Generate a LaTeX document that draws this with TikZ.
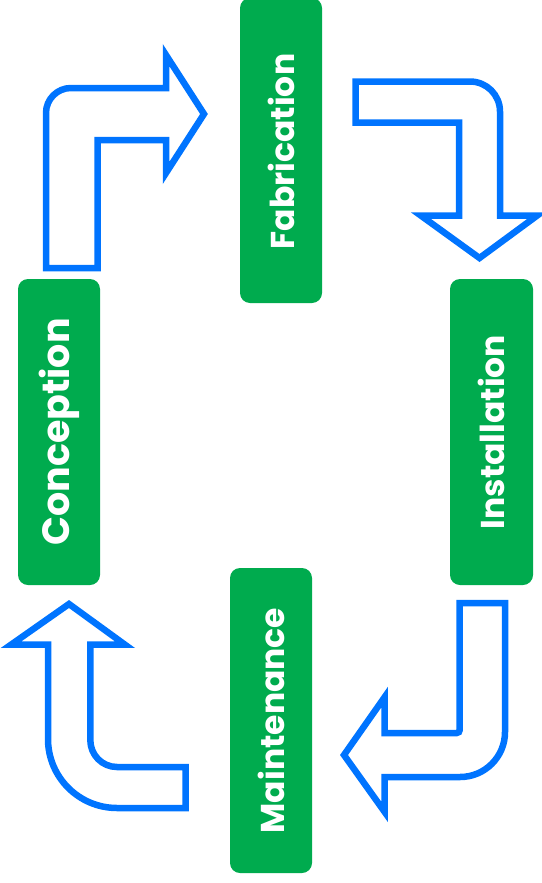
\documentclass[tikz,border=0pt]{standalone}
\usepackage{fontspec}
\setmainfont{Poppins}
\definecolor{grn}{RGB}{0,171,78}
\definecolor{blu}{RGB}{0,116,255}
\begin{document}
\begin{tikzpicture}[x=1pt,y=-1pt,
  stage/.style={fill=grn,rounded corners=10pt},
  lbl/.style={text=white,font=\bfseries\fontsize{33}{33}\selectfont,rotate=90,inner sep=0pt},
  bigarrow/.style={draw=blu,line width=6.5pt,line join=miter,fill=white}]
\useasboundingbox (0,0) rectangle (541,883);
% boxes
\fill[stage] (240,-2) rectangle (322,303);
\fill[stage] (18,279) rectangle (100,585);
\fill[stage] (450,279) rectangle (533,585);
\fill[stage] (230,568) rectangle (312,873);
\node[lbl] (fab) at (281,151.5) {Fabrication};
\node[lbl,font=\bfseries\fontsize{38}{38}\selectfont] (con) at (59,432) {Conception};
\node[lbl] (ins) at (491.5,432) {Installation};
\node[lbl] (mai) at (271,720.5) {Maintenance};
% arrow 1: up then right
\draw[bigarrow] (46,268) -- (46,113) .. controls (46,99.2) and (57.2,88) .. (71,88)
  -- (166,88) -- (166,55) -- (204,114) -- (166,173) -- (166,140) -- (97.5,140) -- (97.5,268) -- cycle;
% arrow 2: right then down
\draw[bigarrow] (355.7,81.5) -- (470,81.5) .. controls (486.6,81.5) and (500,94.9) .. (500,111.5)
  -- (500,215.7) -- (537,215.7) -- (479.5,258) -- (421,215.7) -- (459,215.7) -- (459,122.5) -- (355.7,122.5) -- cycle;
% arrow 3: down then left
\draw[bigarrow] (459.7,603) -- (505,603) -- (505,732) .. controls (505,756.9) and (484.9,777) .. (460,777)
  -- (384.7,777) -- (384.7,812) -- (344,755) -- (384.7,697) -- (384.7,733) -- (456.7,733)
  .. controls (458.4,733) and (459.7,731.7) .. (459.7,730) -- cycle;
% arrow 4: left then up
\draw[bigarrow] (185.7,767) -- (185.7,808) -- (117,808) .. controls (78.9,808) and (48,777.1) .. (48,739)
  -- (48,644.7) -- (11,644.7) -- (69,604) -- (125,644.7) -- (90.3,644.7) -- (90.3,740)
  .. controls (90.3,754.9) and (102.1,767) .. (117,767) -- cycle;
\end{tikzpicture}
\end{document}
